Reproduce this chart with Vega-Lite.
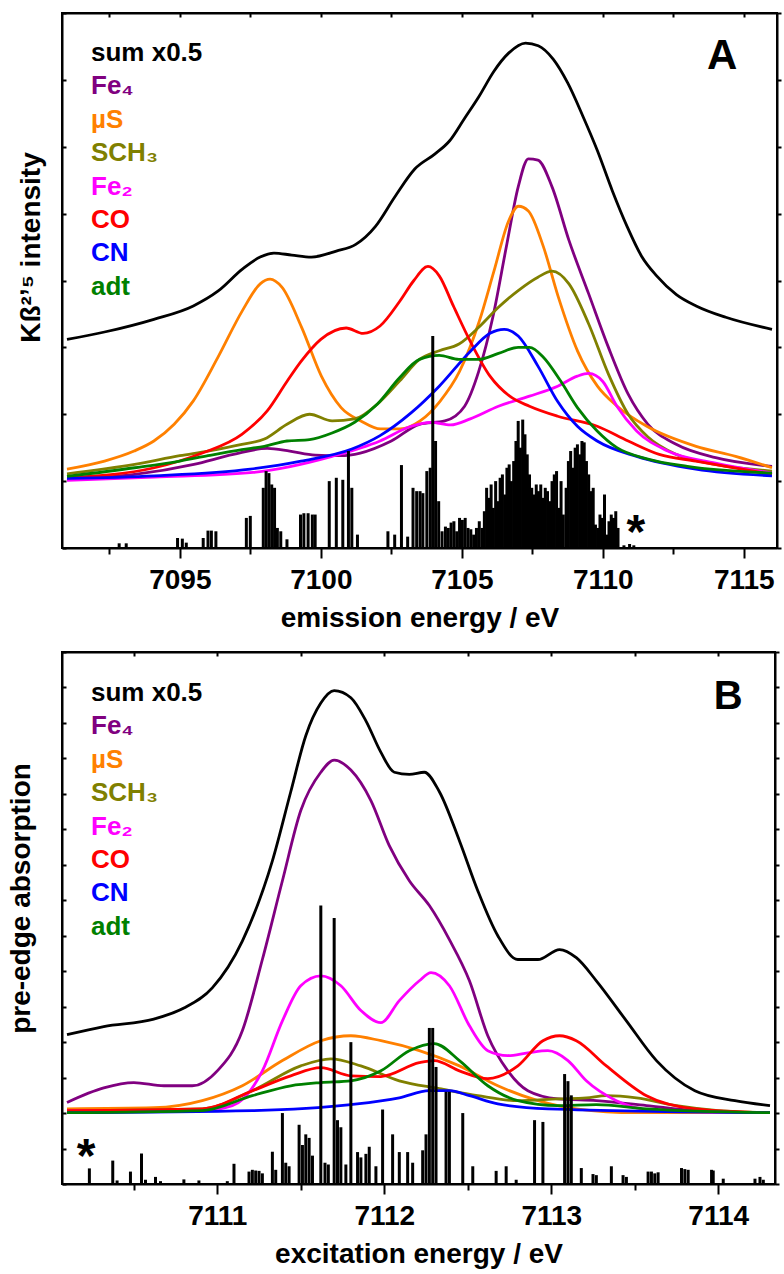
{
"$schema": "https://vega.github.io/schema/vega-lite/v6.json",
"background": "white",
"padding": {"left": 6, "top": 11, "right": 5, "bottom": 5},
"config": {"view": {"stroke": "black", "strokeWidth": 2}, "font": "Liberation Sans",
  "axis": {"grid": false, "domainColor": "black", "domainWidth": 2, "tickColor": "black", "tickWidth": 2, "labelOverlap": false,
    "labelFont": "Liberation Sans", "labelFontWeight": "bold", "labelFontSize": 28, "labelColor": "black",
    "titleFont": "Liberation Sans", "titleFontWeight": "bold", "titleFontSize": 28, "titleColor": "black"},
  "legend": {"labelFont": "Liberation Sans", "labelFontWeight": "bold", "labelFontSize": 26}},
"datasets": {
"curvesA": [
{"s":"sum x0.5","e":7091.0,"v":3.12},{"s":"sum x0.5","e":7092.33,"v":3.23},{"s":"sum x0.5","e":7094.08,"v":3.42},{"s":"sum x0.5","e":7095.48,"v":3.62},{"s":"sum x0.5","e":7096.35,"v":3.84},{"s":"sum x0.5","e":7097.22,"v":4.17},{"s":"sum x0.5","e":7097.85,"v":4.35},{"s":"sum x0.5","e":7098.34,"v":4.41},{"s":"sum x0.5","e":7098.97,"v":4.38},{"s":"sum x0.5","e":7099.67,"v":4.35},{"s":"sum x0.5","e":7100.55,"v":4.44},{"s":"sum x0.5","e":7101.24,"v":4.54},{"s":"sum x0.5","e":7101.94,"v":4.81},{"s":"sum x0.5","e":7102.64,"v":5.26},{"s":"sum x0.5","e":7103.34,"v":5.67},{"s":"sum x0.5","e":7104.04,"v":5.89},{"s":"sum x0.5","e":7104.57,"v":6.09},{"s":"sum x0.5","e":7105.09,"v":6.42},{"s":"sum x0.5","e":7105.62,"v":6.76},{"s":"sum x0.5","e":7106.14,"v":7.13},{"s":"sum x0.5","e":7106.66,"v":7.40},{"s":"sum x0.5","e":7107.26,"v":7.55},{"s":"sum x0.5","e":7107.71,"v":7.51},{"s":"sum x0.5","e":7108.24,"v":7.31},{"s":"sum x0.5","e":7108.76,"v":6.95},{"s":"sum x0.5","e":7109.29,"v":6.46},{"s":"sum x0.5","e":7109.81,"v":5.94},{"s":"sum x0.5","e":7110.34,"v":5.34},{"s":"sum x0.5","e":7110.86,"v":4.81},{"s":"sum x0.5","e":7111.38,"v":4.36},{"s":"sum x0.5","e":7111.91,"v":4.07},{"s":"sum x0.5","e":7112.61,"v":3.79},{"s":"sum x0.5","e":7113.31,"v":3.62},{"s":"sum x0.5","e":7114.36,"v":3.45},{"s":"sum x0.5","e":7116.0,"v":3.27},
{"s":"Fe₄","e":7091.0,"v":1.03},{"s":"Fe₄","e":7093.4,"v":1.10},{"s":"Fe₄","e":7095.5,"v":1.25},{"s":"Fe₄","e":7096.9,"v":1.40},{"s":"Fe₄","e":7098.1,"v":1.49},{"s":"Fe₄","e":7098.9,"v":1.45},{"s":"Fe₄","e":7099.8,"v":1.39},{"s":"Fe₄","e":7100.7,"v":1.38},{"s":"Fe₄","e":7101.4,"v":1.42},{"s":"Fe₄","e":7102.5,"v":1.60},{"s":"Fe₄","e":7103.5,"v":1.85},{"s":"Fe₄","e":7104.4,"v":1.90},{"s":"Fe₄","e":7105.1,"v":2.12},{"s":"Fe₄","e":7105.6,"v":2.64},{"s":"Fe₄","e":7106.1,"v":3.45},{"s":"Fe₄","e":7106.6,"v":4.55},{"s":"Fe₄","e":7107.0,"v":5.40},{"s":"Fe₄","e":7107.36,"v":5.82},{"s":"Fe₄","e":7107.7,"v":5.80},{"s":"Fe₄","e":7108.2,"v":5.40},{"s":"Fe₄","e":7108.8,"v":4.60},{"s":"Fe₄","e":7109.5,"v":3.80},{"s":"Fe₄","e":7110.2,"v":3.00},{"s":"Fe₄","e":7110.9,"v":2.30},{"s":"Fe₄","e":7111.6,"v":1.85},{"s":"Fe₄","e":7112.6,"v":1.55},{"s":"Fe₄","e":7114.0,"v":1.35},{"s":"Fe₄","e":7116.0,"v":1.22},
{"s":"µS","e":7091.0,"v":1.18},{"s":"µS","e":7092.33,"v":1.30},{"s":"µS","e":7093.38,"v":1.45},{"s":"µS","e":7094.08,"v":1.60},{"s":"µS","e":7094.8,"v":1.85},{"s":"µS","e":7095.48,"v":2.2},{"s":"µS","e":7096.35,"v":2.85},{"s":"µS","e":7097.22,"v":3.55},{"s":"µS","e":7097.85,"v":3.95},{"s":"µS","e":7098.2,"v":4.02},{"s":"µS","e":7098.62,"v":3.90},{"s":"µS","e":7099.32,"v":3.30},{"s":"µS","e":7100.02,"v":2.57},{"s":"µS","e":7100.72,"v":2.10},{"s":"µS","e":7101.42,"v":1.90},{"s":"µS","e":7102.12,"v":1.78},{"s":"µS","e":7102.82,"v":1.78},{"s":"µS","e":7103.52,"v":1.90},{"s":"µS","e":7104.22,"v":2.19},{"s":"µS","e":7104.92,"v":2.64},{"s":"µS","e":7105.62,"v":3.39},{"s":"µS","e":7106.14,"v":4.14},{"s":"µS","e":7106.66,"v":4.89},{"s":"µS","e":7107.01,"v":5.11},{"s":"µS","e":7107.36,"v":5.04},{"s":"µS","e":7107.89,"v":4.51},{"s":"µS","e":7108.41,"v":3.77},{"s":"µS","e":7109.11,"v":2.94},{"s":"µS","e":7109.81,"v":2.42},{"s":"µS","e":7110.51,"v":2.12},{"s":"µS","e":7111.56,"v":1.82},{"s":"µS","e":7113.31,"v":1.52},{"s":"µS","e":7114.71,"v":1.37},{"s":"µS","e":7116.0,"v":1.20},
{"s":"SCH₃","e":7091.0,"v":1.11},{"s":"SCH₃","e":7093.4,"v":1.25},{"s":"SCH₃","e":7095.0,"v":1.38},{"s":"SCH₃","e":7096.0,"v":1.45},{"s":"SCH₃","e":7097.2,"v":1.55},{"s":"SCH₃","e":7098.0,"v":1.63},{"s":"SCH₃","e":7098.8,"v":1.85},{"s":"SCH₃","e":7099.6,"v":2.00},{"s":"SCH₃","e":7100.4,"v":1.90},{"s":"SCH₃","e":7101.2,"v":1.93},{"s":"SCH₃","e":7102.0,"v":2.15},{"s":"SCH₃","e":7102.8,"v":2.50},{"s":"SCH₃","e":7103.5,"v":2.82},{"s":"SCH₃","e":7104.2,"v":2.95},{"s":"SCH₃","e":7104.9,"v":3.05},{"s":"SCH₃","e":7105.6,"v":3.30},{"s":"SCH₃","e":7106.3,"v":3.60},{"s":"SCH₃","e":7107.0,"v":3.85},{"s":"SCH₃","e":7107.7,"v":4.05},{"s":"SCH₃","e":7108.2,"v":4.14},{"s":"SCH₃","e":7108.8,"v":3.95},{"s":"SCH₃","e":7109.5,"v":3.35},{"s":"SCH₃","e":7110.2,"v":2.6},{"s":"SCH₃","e":7110.9,"v":2.0},{"s":"SCH₃","e":7111.6,"v":1.66},{"s":"SCH₃","e":7112.6,"v":1.40},{"s":"SCH₃","e":7114.0,"v":1.25},{"s":"SCH₃","e":7116.0,"v":1.15},
{"s":"Fe₂","e":7091.0,"v":1.01},{"s":"Fe₂","e":7094.1,"v":1.06},{"s":"Fe₂","e":7097.6,"v":1.13},{"s":"Fe₂","e":7100.4,"v":1.37},{"s":"Fe₂","e":7102.1,"v":1.60},{"s":"Fe₂","e":7103.2,"v":1.82},{"s":"Fe₂","e":7103.9,"v":1.88},{"s":"Fe₂","e":7104.6,"v":1.84},{"s":"Fe₂","e":7105.3,"v":1.93},{"s":"Fe₂","e":7106.3,"v":2.12},{"s":"Fe₂","e":7107.4,"v":2.27},{"s":"Fe₂","e":7108.4,"v":2.42},{"s":"Fe₂","e":7109.1,"v":2.57},{"s":"Fe₂","e":7109.5,"v":2.61},{"s":"Fe₂","e":7110.0,"v":2.49},{"s":"Fe₂","e":7110.5,"v":2.12},{"s":"Fe₂","e":7111.2,"v":1.75},{"s":"Fe₂","e":7112.3,"v":1.45},{"s":"Fe₂","e":7114.0,"v":1.27},{"s":"Fe₂","e":7116.0,"v":1.12},
{"s":"CO","e":7091.0,"v":1.05},{"s":"CO","e":7094.1,"v":1.20},{"s":"CO","e":7095.8,"v":1.42},{"s":"CO","e":7097.2,"v":1.70},{"s":"CO","e":7098.1,"v":2.05},{"s":"CO","e":7098.8,"v":2.49},{"s":"CO","e":7099.3,"v":2.79},{"s":"CO","e":7100.0,"v":3.12},{"s":"CO","e":7100.9,"v":3.29},{"s":"CO","e":7101.5,"v":3.21},{"s":"CO","e":7102.1,"v":3.32},{"s":"CO","e":7102.8,"v":3.69},{"s":"CO","e":7103.3,"v":4.00},{"s":"CO","e":7103.8,"v":4.21},{"s":"CO","e":7104.2,"v":4.07},{"s":"CO","e":7104.7,"v":3.62},{"s":"CO","e":7105.3,"v":3.09},{"s":"CO","e":7106.0,"v":2.57},{"s":"CO","e":7106.7,"v":2.27},{"s":"CO","e":7107.4,"v":2.12},{"s":"CO","e":7108.4,"v":1.97},{"s":"CO","e":7109.8,"v":1.82},{"s":"CO","e":7110.9,"v":1.6},{"s":"CO","e":7112.0,"v":1.4},{"s":"CO","e":7113.3,"v":1.3},{"s":"CO","e":7116.0,"v":1.1},
{"s":"CN","e":7091.0,"v":1.04},{"s":"CN","e":7094.1,"v":1.08},{"s":"CN","e":7097.5,"v":1.18},{"s":"CN","e":7099.3,"v":1.30},{"s":"CN","e":7101.1,"v":1.48},{"s":"CN","e":7102.1,"v":1.68},{"s":"CN","e":7103.2,"v":2.02},{"s":"CN","e":7104.2,"v":2.42},{"s":"CN","e":7105.3,"v":2.94},{"s":"CN","e":7106.0,"v":3.21},{"s":"CN","e":7106.5,"v":3.27},{"s":"CN","e":7107.0,"v":3.17},{"s":"CN","e":7107.7,"v":2.72},{"s":"CN","e":7108.4,"v":2.19},{"s":"CN","e":7109.1,"v":1.82},{"s":"CN","e":7109.8,"v":1.60},{"s":"CN","e":7111.2,"v":1.37},{"s":"CN","e":7113.3,"v":1.18},{"s":"CN","e":7116.0,"v":1.08},
{"s":"adt","e":7091.0,"v":1.07},{"s":"adt","e":7093.4,"v":1.20},{"s":"adt","e":7095.0,"v":1.30},{"s":"adt","e":7096.0,"v":1.38},{"s":"adt","e":7097.2,"v":1.47},{"s":"adt","e":7098.0,"v":1.52},{"s":"adt","e":7098.8,"v":1.60},{"s":"adt","e":7099.6,"v":1.62},{"s":"adt","e":7100.4,"v":1.72},{"s":"adt","e":7101.2,"v":1.88},{"s":"adt","e":7102.0,"v":2.15},{"s":"adt","e":7102.8,"v":2.55},{"s":"adt","e":7103.5,"v":2.82},{"s":"adt","e":7104.2,"v":2.88},{"s":"adt","e":7104.9,"v":2.82},{"s":"adt","e":7105.6,"v":2.82},{"s":"adt","e":7106.3,"v":2.91},{"s":"adt","e":7107.0,"v":3.00},{"s":"adt","e":7107.4,"v":3.00},{"s":"adt","e":7107.9,"v":2.85},{"s":"adt","e":7108.5,"v":2.50},{"s":"adt","e":7109.1,"v":2.10},{"s":"adt","e":7109.8,"v":1.75},{"s":"adt","e":7110.5,"v":1.50},{"s":"adt","e":7111.6,"v":1.33},{"s":"adt","e":7113.0,"v":1.22},{"s":"adt","e":7116.0,"v":1.12}
],
"sticksA": [
{"e":7092.85,"h":0.07},{"e":7093.1,"h":0.07},{"e":7094.92,"h":0.15},{"e":7095.09,"h":0.14},{"e":7095.23,"h":0.08},{"e":7095.83,"h":0.15},{"e":7096.0,"h":0.26},{"e":7096.12,"h":0.26},{"e":7096.28,"h":0.25},{"e":7097.36,"h":0.45},{"e":7097.5,"h":0.48},{"e":7097.96,"h":0.9},{"e":7098.06,"h":1.15},{"e":7098.16,"h":1.12},{"e":7098.26,"h":0.95},{"e":7098.36,"h":0.9},{"e":7098.46,"h":0.3},{"e":7098.58,"h":0.25},{"e":7098.8,"h":0.13},{"e":7099.28,"h":0.5},{"e":7099.4,"h":0.52},{"e":7099.55,"h":0.52},{"e":7099.7,"h":0.5},{"e":7099.8,"h":0.5},{"e":7100.3,"h":1.0},{"e":7100.55,"h":1.05},{"e":7100.78,"h":1.02},{"e":7100.98,"h":1.45},{"e":7101.1,"h":0.9},{"e":7101.3,"h":0.2},{"e":7102.38,"h":0.25},{"e":7102.62,"h":0.2},{"e":7102.86,"h":1.24},{"e":7103.08,"h":0.17},{"e":7103.27,"h":0.9},{"e":7103.4,"h":0.85},{"e":7103.52,"h":0.85},{"e":7103.62,"h":0.82},{"e":7103.76,"h":1.15},{"e":7103.88,"h":1.2},{"e":7103.97,"h":3.17},{"e":7104.07,"h":1.6},{"e":7104.18,"h":0.7},{"e":7104.3,"h":0.25},{"e":7104.42,"h":0.32},{"e":7104.52,"h":0.3},{"e":7104.62,"h":0.38},{"e":7104.72,"h":0.4},{"e":7104.82,"h":0.25},{"e":7104.92,"h":0.45},{"e":7105.02,"h":0.42},{"e":7105.12,"h":0.45},{"e":7105.22,"h":0.3},{"e":7105.32,"h":0.28},{"e":7105.42,"h":0.2},{"e":7105.52,"h":0.3},{"e":7105.62,"h":0.4},{"e":7105.72,"h":0.3},{"e":7105.8,"h":0.55},{"e":7105.88,"h":0.9},{"e":7105.96,"h":0.75},{"e":7106.04,"h":0.95},{"e":7106.12,"h":0.6},{"e":7106.2,"h":1.0},{"e":7106.28,"h":0.7},{"e":7106.36,"h":1.05},{"e":7106.44,"h":1.1},{"e":7106.52,"h":0.8},{"e":7106.6,"h":1.2},{"e":7106.68,"h":1.25},{"e":7106.76,"h":1.0},{"e":7106.84,"h":1.3},{"e":7106.92,"h":1.6},{"e":7107.0,"h":1.9},{"e":7107.08,"h":1.5},{"e":7107.16,"h":1.92},{"e":7107.24,"h":1.7},{"e":7107.32,"h":1.4},{"e":7107.4,"h":1.1},{"e":7107.48,"h":0.9},{"e":7107.56,"h":0.8},{"e":7107.64,"h":0.95},{"e":7107.72,"h":0.85},{"e":7107.8,"h":0.95},{"e":7107.88,"h":0.75},{"e":7107.96,"h":0.9},{"e":7108.04,"h":0.85},{"e":7108.12,"h":0.7},{"e":7108.2,"h":1.0},{"e":7108.28,"h":1.1},{"e":7108.36,"h":1.15},{"e":7108.44,"h":0.6},{"e":7108.52,"h":1.0},{"e":7108.6,"h":0.5},{"e":7108.7,"h":0.9},{"e":7108.78,"h":1.3},{"e":7108.86,"h":1.45},{"e":7108.94,"h":1.2},{"e":7109.02,"h":1.5},{"e":7109.1,"h":1.55},{"e":7109.18,"h":1.4},{"e":7109.26,"h":1.6},{"e":7109.34,"h":1.58},{"e":7109.42,"h":1.3},{"e":7109.5,"h":1.1},{"e":7109.58,"h":0.85},{"e":7109.66,"h":0.9},{"e":7109.74,"h":0.35},{"e":7109.82,"h":0.3},{"e":7109.9,"h":0.5},{"e":7109.98,"h":0.45},{"e":7110.06,"h":0.8},{"e":7110.14,"h":0.2},{"e":7110.22,"h":0.4},{"e":7110.3,"h":0.5},{"e":7110.38,"h":0.45},{"e":7110.46,"h":0.55},{"e":7110.54,"h":0.3},{"e":7110.75,"h":0.04},{"e":7110.95,"h":0.06},{"e":7111.1,"h":0.04}
],
"curvesB": [
{"s":"sum x0.5","e":7110.10,"v":4.21},{"s":"sum x0.5","e":7110.32,"v":4.44},{"s":"sum x0.5","e":7110.62,"v":4.65},{"s":"sum x0.5","e":7110.80,"v":4.96},{"s":"sum x0.5","e":7110.97,"v":5.53},{"s":"sum x0.5","e":7111.15,"v":6.85},{"s":"sum x0.5","e":7111.33,"v":9.11},{"s":"sum x0.5","e":7111.44,"v":11.06},{"s":"sum x0.5","e":7111.53,"v":12.64},{"s":"sum x0.5","e":7111.62,"v":13.56},{"s":"sum x0.5","e":7111.70,"v":13.91},{"s":"sum x0.5","e":7111.80,"v":13.71},{"s":"sum x0.5","e":7111.89,"v":13.06},{"s":"sum x0.5","e":7111.98,"v":12.17},{"s":"sum x0.5","e":7112.06,"v":11.61},{"s":"sum x0.5","e":7112.15,"v":11.55},{"s":"sum x0.5","e":7112.24,"v":11.61},{"s":"sum x0.5","e":7112.33,"v":11.06},{"s":"sum x0.5","e":7112.45,"v":9.68},{"s":"sum x0.5","e":7112.56,"v":8.27},{"s":"sum x0.5","e":7112.68,"v":7.00},{"s":"sum x0.5","e":7112.80,"v":6.33},{"s":"sum x0.5","e":7112.92,"v":6.33},{"s":"sum x0.5","e":7113.05,"v":6.61},{"s":"sum x0.5","e":7113.15,"v":6.38},{"s":"sum x0.5","e":7113.27,"v":5.73},{"s":"sum x0.5","e":7113.45,"v":4.60},{"s":"sum x0.5","e":7113.63,"v":3.48},{"s":"sum x0.5","e":7113.86,"v":2.63},{"s":"sum x0.5","e":7114.10,"v":2.35},{"s":"sum x0.5","e":7114.31,"v":2.21},
{"s":"Fe₄","e":7110.10,"v":2.30},{"s":"Fe₄","e":7110.32,"v":2.71},{"s":"Fe₄","e":7110.50,"v":2.86},{"s":"Fe₄","e":7110.68,"v":2.77},{"s":"Fe₄","e":7110.85,"v":2.77},{"s":"Fe₄","e":7111.00,"v":3.19},{"s":"Fe₄","e":7111.15,"v":4.32},{"s":"Fe₄","e":7111.27,"v":6.33},{"s":"Fe₄","e":7111.39,"v":8.55},{"s":"Fe₄","e":7111.50,"v":10.53},{"s":"Fe₄","e":7111.62,"v":11.61},{"s":"Fe₄","e":7111.70,"v":11.95},{"s":"Fe₄","e":7111.80,"v":11.67},{"s":"Fe₄","e":7111.92,"v":10.81},{"s":"Fe₄","e":7112.03,"v":9.54},{"s":"Fe₄","e":7112.15,"v":8.55},{"s":"Fe₄","e":7112.27,"v":7.85},{"s":"Fe₄","e":7112.39,"v":6.89},{"s":"Fe₄","e":7112.51,"v":5.73},{"s":"Fe₄","e":7112.62,"v":4.18},{"s":"Fe₄","e":7112.74,"v":3.19},{"s":"Fe₄","e":7112.86,"v":2.63},{"s":"Fe₄","e":7113.04,"v":2.40},{"s":"Fe₄","e":7113.27,"v":2.35},{"s":"Fe₄","e":7113.57,"v":2.21},{"s":"Fe₄","e":7113.86,"v":2.07},{"s":"Fe₄","e":7114.31,"v":2.01},
{"s":"µS","e":7110.10,"v":2.12},{"s":"µS","e":7110.62,"v":2.15},{"s":"µS","e":7110.91,"v":2.35},{"s":"µS","e":7111.15,"v":2.77},{"s":"µS","e":7111.39,"v":3.48},{"s":"µS","e":7111.62,"v":4.04},{"s":"µS","e":7111.80,"v":4.18},{"s":"µS","e":7111.98,"v":4.04},{"s":"µS","e":7112.21,"v":3.76},{"s":"µS","e":7112.45,"v":3.33},{"s":"µS","e":7112.68,"v":2.77},{"s":"µS","e":7112.92,"v":2.35},{"s":"µS","e":7113.15,"v":2.12},{"s":"µS","e":7113.51,"v":2.01},{"s":"µS","e":7114.31,"v":2.01},
{"s":"SCH₃","e":7110.10,"v":2.07},{"s":"SCH₃","e":7110.91,"v":2.12},{"s":"SCH₃","e":7111.21,"v":2.63},{"s":"SCH₃","e":7111.50,"v":3.33},{"s":"SCH₃","e":7111.68,"v":3.53},{"s":"SCH₃","e":7111.86,"v":3.33},{"s":"SCH₃","e":7112.09,"v":2.91},{"s":"SCH₃","e":7112.33,"v":2.69},{"s":"SCH₃","e":7112.56,"v":2.49},{"s":"SCH₃","e":7112.80,"v":2.35},{"s":"SCH₃","e":7113.04,"v":2.40},{"s":"SCH₃","e":7113.21,"v":2.43},{"s":"SCH₃","e":7113.33,"v":2.49},{"s":"SCH₃","e":7113.51,"v":2.43},{"s":"SCH₃","e":7113.75,"v":2.21},{"s":"SCH₃","e":7114.00,"v":2.07},{"s":"SCH₃","e":7114.31,"v":2.01},
{"s":"Fe₂","e":7110.10,"v":2.07},{"s":"Fe₂","e":7110.91,"v":2.07},{"s":"Fe₂","e":7111.09,"v":2.21},{"s":"Fe₂","e":7111.27,"v":3.19},{"s":"Fe₂","e":7111.39,"v":4.60},{"s":"Fe₂","e":7111.50,"v":5.59},{"s":"Fe₂","e":7111.62,"v":5.87},{"s":"Fe₂","e":7111.74,"v":5.59},{"s":"Fe₂","e":7111.86,"v":4.89},{"s":"Fe₂","e":7111.98,"v":4.55},{"s":"Fe₂","e":7112.09,"v":5.17},{"s":"Fe₂","e":7112.21,"v":5.73},{"s":"Fe₂","e":7112.28,"v":5.96},{"s":"Fe₂","e":7112.39,"v":5.59},{"s":"Fe₂","e":7112.51,"v":4.46},{"s":"Fe₂","e":7112.62,"v":3.76},{"s":"Fe₂","e":7112.74,"v":3.62},{"s":"Fe₂","e":7112.86,"v":3.70},{"s":"Fe₂","e":7112.98,"v":3.76},{"s":"Fe₂","e":7113.10,"v":3.48},{"s":"Fe₂","e":7113.21,"v":2.91},{"s":"Fe₂","e":7113.39,"v":2.35},{"s":"Fe₂","e":7113.63,"v":2.07},{"s":"Fe₂","e":7114.31,"v":2.01},
{"s":"CO","e":7110.10,"v":2.07},{"s":"CO","e":7110.91,"v":2.12},{"s":"CO","e":7111.21,"v":2.63},{"s":"CO","e":7111.44,"v":3.05},{"s":"CO","e":7111.62,"v":3.28},{"s":"CO","e":7111.80,"v":3.05},{"s":"CO","e":7111.98,"v":3.03},{"s":"CO","e":7112.21,"v":3.42},{"s":"CO","e":7112.30,"v":3.48},{"s":"CO","e":7112.45,"v":3.19},{"s":"CO","e":7112.62,"v":2.97},{"s":"CO","e":7112.80,"v":3.33},{"s":"CO","e":7112.95,"v":4.04},{"s":"CO","e":7113.05,"v":4.18},{"s":"CO","e":7113.15,"v":4.04},{"s":"CO","e":7113.33,"v":3.33},{"s":"CO","e":7113.57,"v":2.49},{"s":"CO","e":7113.86,"v":2.12},{"s":"CO","e":7114.31,"v":2.01},
{"s":"CN","e":7110.10,"v":2.01},{"s":"CN","e":7111.21,"v":2.07},{"s":"CN","e":7111.80,"v":2.24},{"s":"CN","e":7112.09,"v":2.43},{"s":"CN","e":7112.27,"v":2.63},{"s":"CN","e":7112.39,"v":2.63},{"s":"CN","e":7112.51,"v":2.49},{"s":"CN","e":7112.68,"v":2.26},{"s":"CN","e":7112.98,"v":2.12},{"s":"CN","e":7114.31,"v":2.01},
{"s":"adt","e":7110.10,"v":2.01},{"s":"adt","e":7110.91,"v":2.07},{"s":"adt","e":7111.21,"v":2.49},{"s":"adt","e":7111.44,"v":2.77},{"s":"adt","e":7111.62,"v":2.86},{"s":"adt","e":7111.80,"v":2.91},{"s":"adt","e":7111.98,"v":3.19},{"s":"adt","e":7112.15,"v":3.76},{"s":"adt","e":7112.30,"v":3.96},{"s":"adt","e":7112.45,"v":3.48},{"s":"adt","e":7112.62,"v":2.77},{"s":"adt","e":7112.80,"v":2.35},{"s":"adt","e":7113.04,"v":2.21},{"s":"adt","e":7113.27,"v":2.24},{"s":"adt","e":7113.57,"v":2.12},{"s":"adt","e":7114.31,"v":2.01}
],
"sticksB": [
{"e":7110.234,"h":0.44},{"e":7110.374,"h":0.66},{"e":7110.40,"h":0.1},{"e":7110.48,"h":0.35},{"e":7110.546,"h":0.86},{"e":7110.57,"h":0.12},{"e":7110.63,"h":0.2},{"e":7110.66,"h":0.08},{"e":7110.80,"h":0.13},{"e":7110.89,"h":0.1},{"e":7111.06,"h":0.08},{"e":7111.10,"h":0.57},{"e":7111.19,"h":0.35},{"e":7111.21,"h":0.4},{"e":7111.23,"h":0.38},{"e":7111.25,"h":0.37},{"e":7111.27,"h":0.3},{"e":7111.33,"h":0.91},{"e":7111.35,"h":0.4},{"e":7111.39,"h":2.0},{"e":7111.41,"h":0.6},{"e":7111.43,"h":0.5},{"e":7111.49,"h":1.67},{"e":7111.51,"h":1.1},{"e":7111.53,"h":1.4},{"e":7111.55,"h":1.3},{"e":7111.57,"h":0.8},{"e":7111.62,"h":7.85},{"e":7111.645,"h":0.6},{"e":7111.665,"h":0.55},{"e":7111.70,"h":7.5},{"e":7111.72,"h":1.8},{"e":7111.74,"h":1.6},{"e":7111.77,"h":0.55},{"e":7111.80,"h":4.0},{"e":7111.84,"h":0.9},{"e":7111.86,"h":0.75},{"e":7111.89,"h":0.85},{"e":7111.91,"h":1.05},{"e":7111.95,"h":0.5},{"e":7111.99,"h":2.1},{"e":7112.05,"h":1.4},{"e":7112.09,"h":0.9},{"e":7112.14,"h":0.9},{"e":7112.17,"h":0.6},{"e":7112.23,"h":0.95},{"e":7112.25,"h":1.4},{"e":7112.27,"h":4.4},{"e":7112.29,"h":4.4},{"e":7112.31,"h":3.3},{"e":7112.37,"h":2.6},{"e":7112.39,"h":2.6},{"e":7112.47,"h":2.0},{"e":7112.53,"h":0.5},{"e":7112.67,"h":0.37},{"e":7112.73,"h":0.5},{"e":7112.79,"h":0.12},{"e":7112.90,"h":1.8},{"e":7112.95,"h":1.75},{"e":7113.08,"h":3.1},{"e":7113.10,"h":2.9},{"e":7113.12,"h":2.5},{"e":7113.18,"h":0.45},{"e":7113.25,"h":0.28},{"e":7113.27,"h":0.25},{"e":7113.36,"h":0.5},{"e":7113.43,"h":0.25},{"e":7113.45,"h":0.2},{"e":7113.58,"h":0.35},{"e":7113.60,"h":0.35},{"e":7113.62,"h":0.3},{"e":7113.64,"h":0.33},{"e":7113.78,"h":0.45},{"e":7113.80,"h":0.42},{"e":7113.82,"h":0.4},{"e":7113.96,"h":0.4},{"e":7113.97,"h":0.38},{"e":7114.03,"h":0.15},{"e":7114.22,"h":0.15},{"e":7114.25,"h":0.2},{"e":7114.27,"h":0.12}
],
"notesA": [{"e":7111.17,"v":0.0,"t":"*"},{"e":7114.23,"v":7.16,"t":"A"}],
"notesB": [{"e":7110.215,"v":0.34,"t":"*"},{"e":7114.06,"v":13.40,"t":"B"}]
},
"vconcat": [
{
 "width": 715, "height": 535,
 "layer": [
  {"data": {"name": "curvesA"},
   "mark": {"type": "line", "strokeWidth": 2.8, "interpolate": "monotone"},
   "encoding": {
    "x": {"field": "e", "type": "quantitative", "scale": {"domain": [7091, 7116], "nice": false, "zero": false},
      "axis": {"orient": "bottom", "title": "emission energy / eV", "values": [7092.5,7095,7097.5,7100,7102.5,7105,7107.5,7110,7112.5,7115], "format": "d", "labelExpr": "datum.value % 5 === 0 ? datum.label : ''", "tickSize": {"condition": {"test": "datum.value % 5 === 0", "value": 10}, "value": 6}, "labelPadding": 8, "titlePadding": 10}},
    "y": {"field": "v", "type": "quantitative", "scale": {"domain": [0, 8], "nice": false, "zero": false},
      "axis": {"orient": "left", "title": "Kß²ʼ⁵ intensity", "values": [0,1,2,3,4,5,6,7,8], "labels": false, "tickSize": -4, "titlePadding": 16, "titleY": 234}},
    "color": {"field": "s", "type": "nominal",
      "scale": {"domain": ["sum x0.5","Fe₄","µS","SCH₃","Fe₂","CO","CN","adt"], "range": ["#000000","#800080","#ff8000","#808000","#ff00ff","#ff0000","#0000ff","#008000"]},
      "legend": {"title": null, "orient": "none", "legendX": 3, "legendY": 27, "padding": 0, "symbolSize": 0, "symbolOpacity": 0, "symbolStrokeWidth": 0, "labelOffset": 0, "rowPadding": 7.4,
        "encode": {"labels": {"update": {"fill": {"signal": "['#000000','#800080','#ff8000','#808000','#ff00ff','#ff0000','#0000ff','#008000'][indexof(['sum x0.5','Fe₄','µS','SCH₃','Fe₂','CO','CN','adt'], datum.value)]"}}}}}}
   }},
  {"data": {"name": "sticksA"},
   "mark": {"type": "bar", "size": 3, "color": "black", "orient": "vertical"},
   "encoding": {
    "x": {"field": "e", "type": "quantitative", "scale": {"domain": [7091, 7116], "nice": false, "zero": false},
      "axis": {"orient": "top", "title": null, "values": [7092.5,7095,7097.5,7100,7102.5,7105,7107.5,7110,7112.5,7115], "labels": false, "tickSize": -4}},
    "y": {"field": "h", "type": "quantitative", "scale": {"domain": [0, 8], "nice": false, "zero": false},
      "axis": {"orient": "right", "title": null, "values": [0,1,2,3,4,5,6,7,8], "labels": false, "tickSize": 4}}
   }},
  {"data": {"name": "notesA"},
   "mark": {"type": "text", "fontWeight": "bold", "font": "Liberation Sans", "baseline": "alphabetic", "align": "center", "color": "black"},
   "encoding": {"x": {"field": "e", "type": "quantitative", "axis": null}, "y": {"field": "v", "type": "quantitative", "axis": null}, "text": {"field": "t"},
     "size": {"condition": {"test": "datum.t === '*'", "value": 48}, "value": 42}}}
 ],
 "resolve": {"axis": {"x": "independent", "y": "independent"}}
},
{
 "width": 713, "height": 532,
 "layer": [
  {"data": {"name": "curvesB"},
   "mark": {"type": "line", "strokeWidth": 2.8, "interpolate": "monotone"},
   "encoding": {
    "x": {"field": "e", "type": "quantitative", "scale": {"domain": [7110.1, 7114.31], "nice": false, "zero": false},
      "axis": {"orient": "bottom", "title": "excitation energy / eV", "values": [7111, 7112, 7113, 7114], "format": "d", "labels": true, "tickSize": 10, "labelPadding": 8, "titlePadding": 10}},
    "y": {"field": "v", "type": "quantitative", "scale": {"domain": [0, 15], "nice": false, "zero": false},
      "axis": {"orient": "left", "title": "pre-edge absorption", "values": [0,1,2,3,4,5,6,7,8,9,10,11,12,13,14,15], "labels": false, "tickSize": -4, "titlePadding": 26, "titleY": 246}},
    "color": {"field": "s", "type": "nominal",
      "scale": {"domain": ["sum x0.5","Fe₄","µS","SCH₃","Fe₂","CO","CN","adt"], "range": ["#000000","#800080","#ff8000","#808000","#ff00ff","#ff0000","#0000ff","#008000"]},
      "legend": {"title": null, "orient": "none", "legendX": 3, "legendY": 28, "padding": 0, "symbolSize": 0, "symbolOpacity": 0, "symbolStrokeWidth": 0, "labelOffset": 0, "rowPadding": 7.4,
        "encode": {"labels": {"update": {"fill": {"signal": "['#000000','#800080','#ff8000','#808000','#ff00ff','#ff0000','#0000ff','#008000'][indexof(['sum x0.5','Fe₄','µS','SCH₃','Fe₂','CO','CN','adt'], datum.value)]"}}}}}}
   }},
  {"data": {"name": "sticksB"},
   "mark": {"type": "bar", "size": 3, "color": "black", "orient": "vertical"},
   "encoding": {
    "x": {"field": "e", "type": "quantitative", "scale": {"domain": [7110.1, 7114.31], "nice": false, "zero": false},
      "axis": {"orient": "bottom", "title": null, "values": [7110.5, 7111.5, 7112.5, 7113.5], "labels": false, "domain": false, "tickSize": 6}},
    "y": {"field": "h", "type": "quantitative", "scale": {"domain": [0, 15], "nice": false, "zero": false},
      "axis": {"orient": "right", "title": null, "values": [0,1,2,3,4,5,6,7,8,9,10,11,12,13,14,15], "labels": false, "tickSize": 4}}
   }},
  {"data": {"name": "notesB"},
   "mark": {"type": "text", "fontWeight": "bold", "font": "Liberation Sans", "baseline": "alphabetic", "align": "center", "color": "black"},
   "encoding": {"x": {"field": "e", "type": "quantitative", "axis": {"orient": "top", "title": null, "values": [7110.5,7111,7111.5,7112,7112.5,7113,7113.5,7114], "labels": false, "tickSize": -4}}, "y": {"field": "v", "type": "quantitative", "axis": null}, "text": {"field": "t"},
     "size": {"condition": {"test": "datum.t === '*'", "value": 48}, "value": 40}}}
 ],
 "resolve": {"axis": {"x": "independent", "y": "independent"}}
}
],
"spacing": 104,
"bounds": "flush",
"resolve": {"scale": {"color": "independent", "x": "independent", "y": "independent"}}
}
